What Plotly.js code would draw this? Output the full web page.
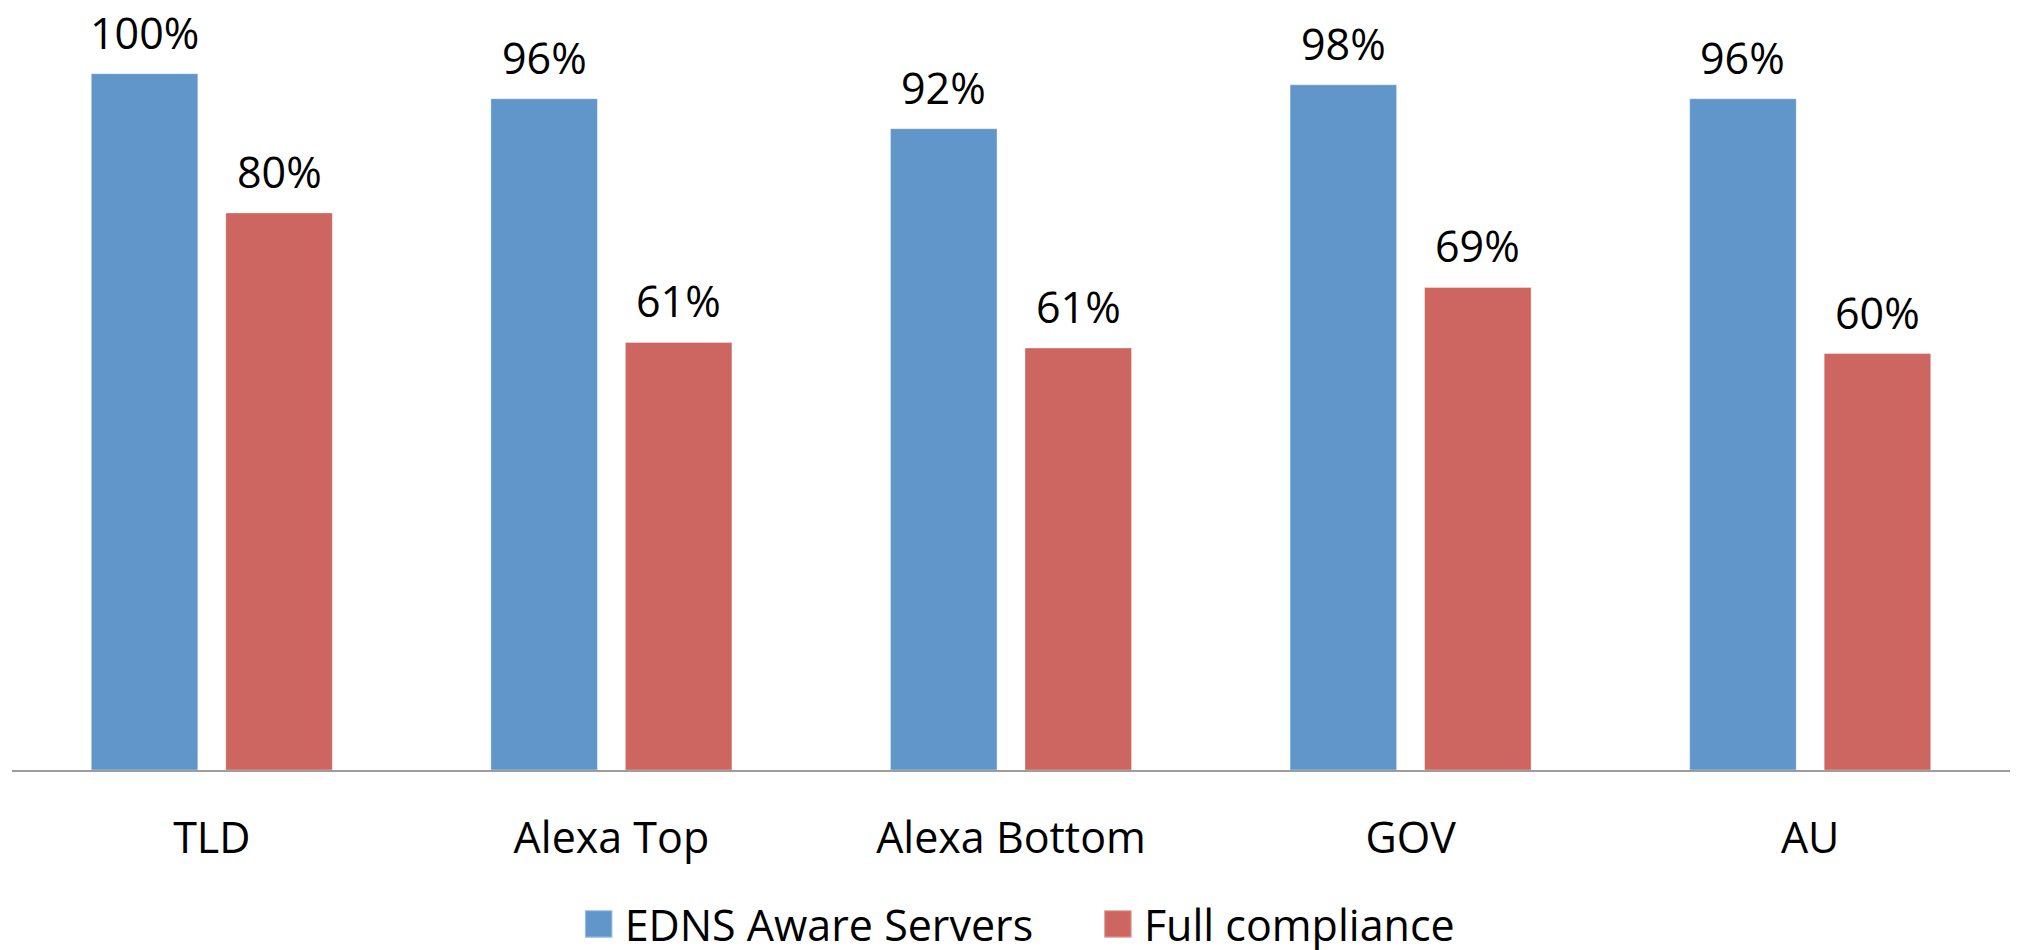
<!DOCTYPE html>
<html>
<head>
<meta charset="utf-8">
<script src="https://cdn.plot.ly/plotly-3.0.1.min.js"></script>
<style>html,body{margin:0;padding:0;background:#fff;}#chart{width:2042px;height:950px;}</style>
</head>
<body>
<div id="chart"></div>
<script>
const categories = ["TLD", "Alexa Top", "Alexa Bottom", "GOV", "AU"];
const ednsAware = [100, 96.4, 92.1, 98.4, 96.4];
const fullCompliance = [80, 61.4, 60.6, 69.3, 59.8];
const seriesNames = ["EDNS Aware Servers", "Full compliance"];

const FONT = "Open Sans, Noto Sans, sans-serif";
const FS = 43;
const BARGAP = 0.3268;
const colors = ["#6196CA", "#CD6660"];
const legendIds = ["legend", "legend2"];

const traces = [ednsAware, fullCompliance].map(function(vals, k){
  return {
    type: "bar", name: seriesNames[k], x: categories, y: vals,
    legend: legendIds[k],
    marker: {color: colors[k], line: {color: "rgba(255,255,255,0.35)", width: 1}},
    hoverinfo: "x+y"
  };
});

// value labels above each bar, positioned in data coordinates
const annotations = [];
const half = (1 - BARGAP) / 4;
[ednsAware, fullCompliance].forEach(function(vals, k){
  vals.forEach(function(v, i){
    annotations.push({
      xref: "x", yref: "y", x: i + (k === 0 ? -half : half), y: v,
      text: Math.round(v) + "%", showarrow: false,
      xanchor: "center", yanchor: "bottom", yshift: 10,
      font: {family: FONT, size: FS, color: "#000"}
    });
  });
});

const legendBase = {orientation: "h", xanchor: "left", y: -0.2, yanchor: "middle",
                    bgcolor: "rgba(0,0,0,0)", font: {family: FONT, size: FS, color: "#000"}};

const layout = {
  width: 2042, height: 950,
  margin: {l: 12, r: 32, t: 0, b: 180, autoexpand: false},
  paper_bgcolor: "#fff", plot_bgcolor: "#fff",
  font: {family: FONT, color: "#000", size: FS},
  barmode: "group", bargap: BARGAP, bargroupgap: 0.208,
  showlegend: true,
  legend: Object.assign({}, legendBase, {x: 0.2866}),
  legend2: Object.assign({}, legendBase, {x: 0.5465}),
  annotations: annotations,
  xaxis: {type: "category", showline: true, linecolor: "#9D9D9D", linewidth: 2,
          ticks: "", ticklabelstandoff: 29,
          tickfont: {family: FONT, size: FS, color: "#000"}, showgrid: false,
          zeroline: false, fixedrange: true},
  yaxis: {range: [0, 110.58], visible: false, showgrid: false, zeroline: false, fixedrange: true}
};

Plotly.newPlot("chart", traces, layout, {displayModeBar: false, staticPlot: true}).then(function(gd){
  gd.querySelectorAll(".legendpoints path").forEach(function(p){
    const t = p.getAttribute("transform") || "";
    p.setAttribute("transform", t + " translate(-6,0) scale(2.3)");
  });
});
</script>
</body>
</html>
